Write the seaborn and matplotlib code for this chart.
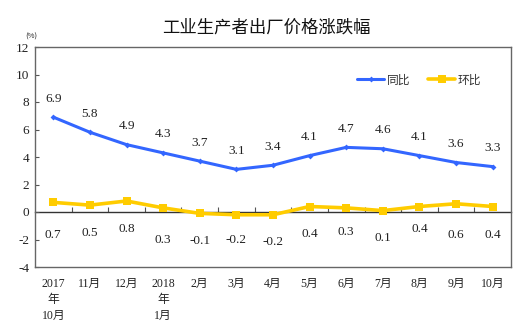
import matplotlib
matplotlib.use("Agg")
import matplotlib.pyplot as plt
import seaborn as sns
import pandas as pd
import numpy as np

categories = ["2017\n年\n10月", "11月", "12月", "2018\n年\n1月", "2月", "3月", "4月",
              "5月", "6月", "7月", "8月", "9月", "10月"]
yoy = [6.9, 5.8, 4.9, 4.3, 3.7, 3.1, 3.4, 4.1, 4.7, 4.6, 4.1, 3.6, 3.3]
mom = [0.7, 0.5, 0.8, 0.3, -0.1, -0.2, -0.2, 0.4, 0.3, 0.1, 0.4, 0.6, 0.4]
yticks = [-4, -2, 0, 2, 4, 6, 8, 10, 12]

# label placement (style only) for the 环比 value labels, in data units
mom_label_y = [-1.67, -1.53, -1.24, -2.04, -2.1, -2.04, -2.18, -1.6, -1.45, -1.9, -1.24, -1.67, -1.67]

sns.set_theme(style="white")
plt.rcParams['font.family'] = ['Noto Sans CJK SC', 'DejaVu Sans']

blue = "#3366ff"
yellow = "#ffcc00"
num_font = ['Liberation Serif', 'Noto Sans CJK SC']

x = np.arange(len(categories))
df = pd.DataFrame({"x": np.concatenate([x, x]),
                   "v": yoy + mom,
                   "s": ["同比"] * len(x) + ["环比"] * len(x)})

fig = plt.figure(figsize=(5.32, 3.34), dpi=100)
ax = fig.add_axes([35 / 532, 1 - 267 / 334, 476 / 532, 220 / 334])

sns.lineplot(data=df[df.s == "同比"], x="x", y="v", ax=ax, color=blue, lw=2.2,
             marker="D", markersize=3, markeredgewidth=0, label="同比", sort=False)
sns.lineplot(data=df[df.s == "环比"], x="x", y="v", ax=ax, color=yellow, lw=2.6,
             marker="s", markersize=5.5, markeredgewidth=0, label="环比", sort=False)

ax.set_xlim(-0.5, len(categories) - 0.5)
ax.set_ylim(-4, 12)
ax.set_yticks(yticks)
ax.set_yticklabels([str(t) for t in yticks], family=num_font, fontsize=9.5, color="#222222")
ax.tick_params(axis="y", direction="in", length=3, width=0.8, color="#555555", pad=4, left=True)
ax.set_xticks(x)
ax.set_xticklabels(categories, fontsize=8.5, color="#222222", linespacing=1.45,
                   family=['Liberation Serif', 'Noto Sans CJK SC'])
ax.tick_params(axis="x", length=0, pad=8)
ax.set_xlabel("")
ax.set_ylabel("")
for sp in ax.spines.values():
    sp.set_color("#666666")
    sp.set_linewidth(1.0)

# zero axis with category-boundary ticks
sec = ax.secondary_xaxis(0.25)
sec.set_xticks(x[:-1] + 0.5)
sec.set_xticklabels([])
sec.tick_params(direction="in", length=3.5, width=0.8, color="#555555")
sec.spines["bottom"].set_color("#333333")
sec.spines["bottom"].set_linewidth(1.0)

for xi, v in zip(x, yoy):
    ax.annotate(f"{v}", (xi, v), xytext=(0, 9), textcoords="offset points",
                ha="center", va="bottom", fontsize=9.5, family=num_font, color="#222222")
for xi, v, ly in zip(x, mom, mom_label_y):
    ax.text(xi, ly, f"{v}", ha="center", va="center", fontsize=9.5, family=num_font, color="#222222")

leg = ax.legend(loc="center", bbox_to_anchor=(0.807, 0.85), ncol=2, frameon=False,
                fontsize=8.5, handlelength=2.3, handletextpad=0.2, columnspacing=1.5)
for t in leg.get_texts():
    t.set_color("#333333")

fig.text(0.5, 1 - 28 / 334, "工业生产者出厂价格涨跌幅", ha="center", va="center", fontsize=12.5, color="#111111")
fig.text(31 / 532, 1 - 37 / 334, "(%)", ha="center", va="center", fontsize=5.5, color="#222222")

fig.savefig("out.png", dpi=100)
